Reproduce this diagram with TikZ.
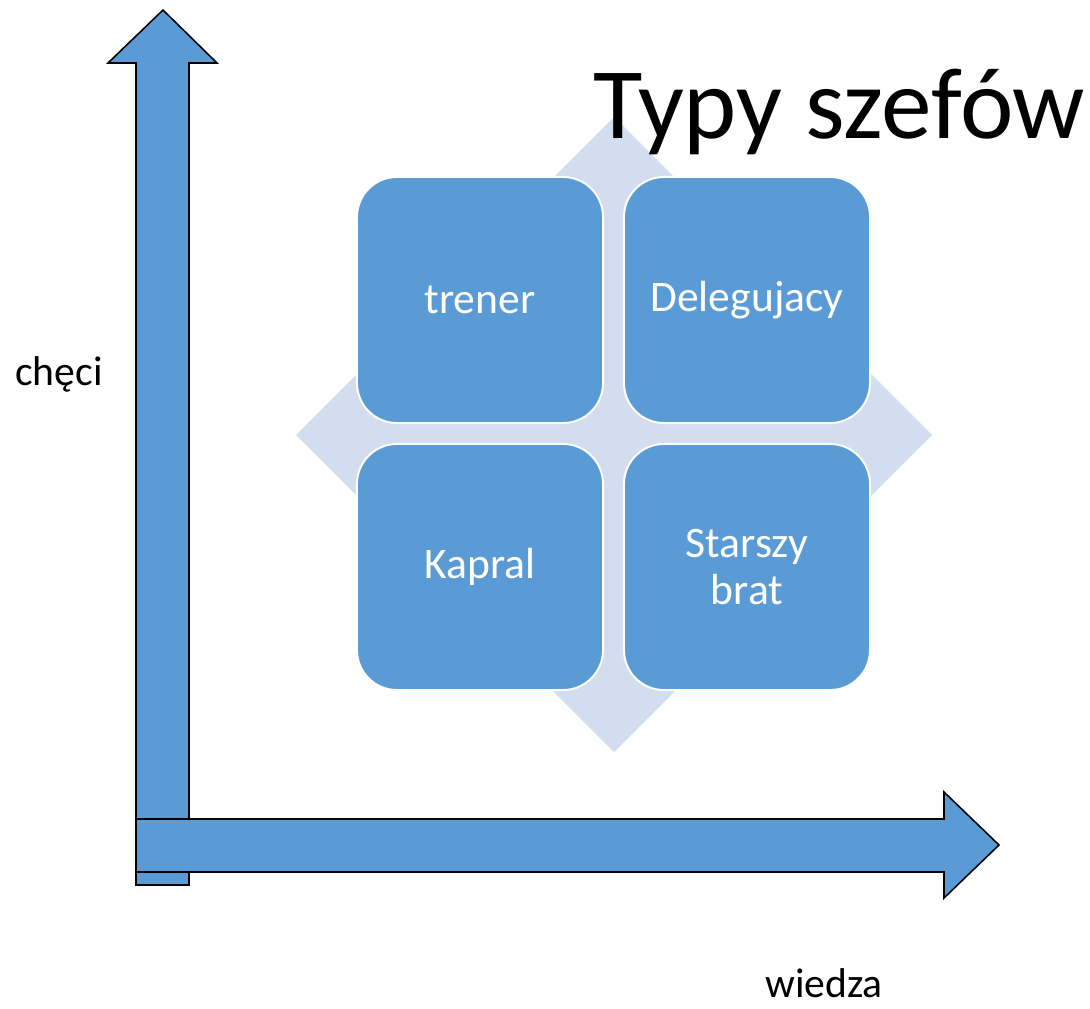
\documentclass[tikz,border=0pt]{standalone}
\usepackage{fontspec}
\setmainfont{Carlito}
\definecolor{niebieski}{HTML}{5B9BD5}
\definecolor{jasny}{HTML}{D2DEEF}

\begin{document}
\begin{tikzpicture}[x=0.025cm, y=-0.025cm, pole/.style = {draw=white, line width=1.4pt, fill=niebieski, rounded corners=1cm, minimum width=6.15cm, minimum height=6.15cm, inner sep=0pt, text=white, align=center, font=\fontsize{31}{33.5}\selectfont}, os/.style = {draw=black, line width=1.1pt, fill=niebieski, line join=miter}, opis/.style = {anchor=base west, inner sep=0pt, font=\fontsize{29.6}{33}\selectfont}]

    \useasboundingbox (0,0) rectangle (1090,1008);

    % 1. Osie w postaci grubych strzałek
    \draw[os] (136,885) -- (136,63) -- (108,63) -- (163,10) -- (217,63) -- (189,63) -- (189,885) -- cycle;
    \draw[os] (136,819) -- (944,819) -- (944,792) -- (999,845) -- (944,898) -- (944,872) -- (136,872) -- cycle;

    % 2. Romb w tle
    \draw[fill=jasny, draw=none] (614,117) -- (932,435) -- (614,752) -- (296,435) -- cycle;

    % 3. Pola macierzy
    \node[pole] (trener) at (480,300) {trener};
    \node[pole] (delegujacy) at (747,300) {Delegujacy};
    \node[pole] (kapral) at (480,567) {Kapral};
    \node[pole] (brat) at (747,567) {Starszy\\brat};

    % 4. Tytuł i podpisy osi
    \node[opis, font=\fontsize{72}{80}\selectfont] (tytul) at (593,138) {Typy szefów};
    \node[opis] (checi) at (15,385) {chęci};
    \node[opis] (wiedza) at (765,997) {wiedza};
\end{tikzpicture}
\end{document}
